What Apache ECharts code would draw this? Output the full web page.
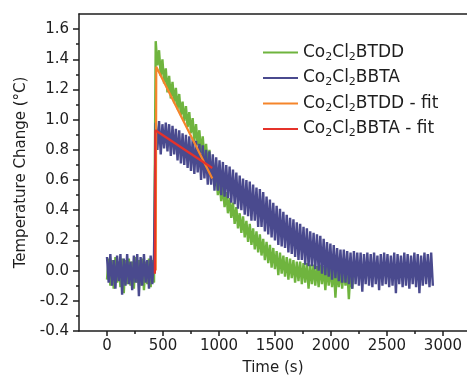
<!DOCTYPE html>
<html>
<head>
<meta charset="utf-8">
<script src="https://cdn.jsdelivr.net/npm/echarts@6/dist/echarts.min.js"></script>
<style>
	html, body { margin: 0; padding: 0; background: #fff; }
	#chart { width: 467px; height: 381px; }
</style>
</head>
<body>
<div id="chart"></div>
<script>
/* 采样间隔 (s) */
const sampleStep = 15;

/* Co2Cl2BTDD 测量值, 每 15 s 一个点 */
const btddValues = [
	-0.06, 0.08, -0.1, 0.07, -0.12, 0.09, -0.08, 0.06, -0.11, 0.08, -0.15, 0.07, -0.09, 0.08, -0.1,
	0.06, -0.12, 0.09, -0.08, 0.07, -0.1, 0.08, -0.13, 0.06, -0.09, 0.08, -0.11, 0.07, -0.08,
	1.52, 1.36, 1.46, 1.29, 1.40, 1.24, 1.34, 1.18, 1.29, 1.14, 1.25, 1.11, 1.21, 1.07, 1.17, 1.03,
	1.12, 0.99, 1.09, 0.95, 1.05, 0.91, 1.01, 0.86, 0.97, 0.83, 0.93, 0.78, 0.89, 0.74, 0.84, 0.68,
	0.80, 0.62, 0.72, 0.56, 0.66, 0.50, 0.60, 0.46, 0.56, 0.42, 0.52, 0.38, 0.48, 0.35, 0.45, 0.31,
	0.42, 0.28, 0.38, 0.25, 0.36, 0.22, 0.33, 0.19, 0.31, 0.17, 0.28, 0.14, 0.26, 0.12, 0.24, 0.10,
	0.21, 0.07, 0.19, 0.05, 0.17, 0.02, 0.15, 0.01, 0.13, -0.03, 0.12, -0.02, 0.10, -0.04, 0.09, -0.06,
	0.08, -0.05, 0.07, -0.08, 0.06, -0.07, 0.06, -0.09, 0.05, -0.08, 0.05, -0.12, 0.04, -0.09, 0.04,
	-0.1, 0.03, -0.11, 0.04, -0.09, 0.03, -0.13, 0.03, -0.1, 0.02, -0.11, 0.03, -0.18, 0.02, -0.11,
	0.02, -0.12, 0.01, -0.1, 0.02, -0.19, 0.01, -0.12, 0.02
];

/* Co2Cl2BBTA 测量值, 每 15 s 一个点 */
const bbtaValues = [
	0.09, -0.08, 0.11, -0.1, 0.07, -0.12, 0.1, -0.07, 0.11, -0.16, 0.08, -0.1, 0.11, -0.09, 0.06,
	-0.13, 0.1, -0.08, 0.11, -0.17, 0.09, -0.1, 0.11, -0.08, 0.07, -0.12, 0.1, -0.09, 0.11,
	0.98, 0.80, 0.99, 0.77, 0.97, 0.81, 0.98, 0.79, 0.97, 0.76, 0.96, 0.77, 0.94, 0.73, 0.93, 0.71,
	0.91, 0.70, 0.90, 0.68, 0.89, 0.66, 0.87, 0.64, 0.86, 0.65, 0.84, 0.60, 0.83, 0.61, 0.80, 0.57,
	0.79, 0.57, 0.77, 0.53, 0.75, 0.53, 0.73, 0.50, 0.72, 0.49, 0.70, 0.48, 0.69, 0.45, 0.67, 0.44,
	0.65, 0.41, 0.63, 0.40, 0.61, 0.37, 0.60, 0.36, 0.59, 0.33, 0.57, 0.33, 0.55, 0.29, 0.54, 0.29,
	0.52, 0.26, 0.49, 0.24, 0.47, 0.22, 0.45, 0.20, 0.43, 0.17, 0.41, 0.16, 0.39, 0.15, 0.37, 0.12,
	0.35, 0.11, 0.34, 0.09, 0.32, 0.07, 0.31, 0.07, 0.29, 0.04, 0.28, 0.03, 0.26, 0.03, 0.25, 0.01,
	0.24, 0.0, 0.23, -0.02, 0.21, -0.03, 0.19, -0.04, 0.18, -0.06, 0.17, -0.05, 0.15, -0.07, 0.14,
	-0.08, 0.14, -0.08, 0.13, -0.09, 0.12, -0.12, 0.13, -0.09, 0.12, -0.1, 0.12, -0.14, 0.11, -0.09,
	0.12, -0.1, 0.11, -0.11, 0.12, -0.09, 0.1, -0.13, 0.11, -0.1, 0.12, -0.09, 0.11, -0.11, 0.1,
	-0.1, 0.12, -0.15, 0.11, -0.09, 0.1, -0.11, 0.12, -0.1, 0.11, -0.12, 0.1, -0.09, 0.12, -0.11,
	0.11, -0.15, 0.1, -0.1, 0.12, -0.09, 0.11, -0.11, 0.12, -0.1
];

/* 拟合线 */
const btddFitTime = [ 435, 440, 940 ];
const btddFitValue = [ 0, 1.35, 0.61 ];
const bbtaFitTime = [ 428, 432, 940 ];
const bbtaFitValue = [ -0.02, 0.93, 0.68 ];

/* 坐标轴刻度 */
const xTicks = [ 0, 500, 1000, 1500, 2000, 2500, 3000 ];
const xMinorTicks = [ 250, 750, 1250, 1750, 2250, 2750 ];
const yTicks = [ -0.4, -0.2, 0.0, 0.2, 0.4, 0.6, 0.8, 1.0, 1.2, 1.4, 1.6 ];
const yMinorTicks = [ -0.3, -0.1, 0.1, 0.3, 0.5, 0.7, 0.9, 1.1, 1.3, 1.5 ];

const seriesNames = [ "Co2Cl2BTDD", "Co2Cl2BBTA", "Co2Cl2BTDD - fit", "Co2Cl2BBTA - fit" ];
const seriesColors = [ "#6fb43e", "#4a4a8e", "#f5852b", "#e5322a" ];

const font = "DejaVu Sans";
const ink = "#1e1e1e";

function sampled( values ) {
	return values.map( ( v, i ) => [ i * sampleStep, v ] );
}

function paired( xs, ys ) {
	return xs.map( ( x, i ) => [ x, ys[i] ] );
}

/* 下标 2 */
function legendLabel( name ) {
	return name.split( "2" ).map( s => `{n|${ s }}` ).join( "{s|2}" );
}

function lineSeries( i, data, width ) {
	return {
		name: seriesNames[i],
		type: "line",
		data,
		symbol: "none",
		color: seriesColors[i],
		lineStyle: { width }
	};
}

const chart = echarts.init( document.getElementById( "chart" ), null, { renderer: "canvas" } );

const baseX = {
	type: "value",
	min: -250,
	max: 3215,
	splitLine: { show: false }
};
const baseY = {
	type: "value",
	min: -0.4,
	max: 1.7,
	position: "left",
	splitLine: { show: false }
};

chart.setOption( {
	animation: false,
	grid: {
		left: 79,
		top: 14,
		right: 0,
		bottom: 48
	},
	legend: {
		orient: "vertical",
		left: 263,
		top: 44,
		padding: 0,
		icon: "rect",
		itemWidth: 35,
		itemHeight: 2,
		itemGap: 7,
		data: seriesNames,
		formatter: legendLabel,
		textStyle: {
			rich: {
				n: { fontFamily: font, fontSize: 17, color: ink },
				s: { fontFamily: font, fontSize: 11, color: ink, padding: [ 9, 0, 0, 0 ] }
			}
		}
	},
	xAxis: [ {
		...baseX,
		position: "bottom",
		name: "Time (s)",
		nameLocation: "middle",
		nameGap: 30,
		nameTextStyle: { fontFamily: font, fontSize: 15, color: ink },
		axisLine: { onZero: false, lineStyle: { color: ink, width: 1.5 } },
		axisTick: { customValues: xTicks, length: 5, lineStyle: { color: ink, width: 1.5 } },
		axisLabel: {
			customValues: xTicks,
			margin: 8,
			fontFamily: font,
			fontSize: 15,
			color: ink,
			formatter: v => String( v )
		}
	}, {
		...baseX,
		position: "bottom",
		axisLine: { show: false, onZero: false },
		axisTick: { customValues: xMinorTicks, length: 3, lineStyle: { color: ink, width: 1.5 } },
		axisLabel: { show: false }
	}, {
		...baseX,
		position: "top",
		axisLine: { onZero: false, lineStyle: { color: ink, width: 1.5 } },
		axisTick: { show: false },
		axisLabel: { show: false }
	} ],
	yAxis: [ {
		...baseY,
		name: "Temperature Change (°C)",
		nameLocation: "middle",
		nameGap: 49,
		nameTextStyle: { fontFamily: font, fontSize: 15, color: ink },
		axisLine: { onZero: false, lineStyle: { color: ink, width: 1.5 } },
		axisTick: { customValues: yTicks, length: 6, lineStyle: { color: ink, width: 1.5 } },
		axisLabel: {
			customValues: yTicks,
			margin: 10,
			fontFamily: font,
			fontSize: 15,
			color: ink,
			formatter: v => v.toFixed( 1 )
		}
	}, {
		...baseY,
		axisLine: { show: false, onZero: false },
		axisTick: { customValues: yMinorTicks, length: 3, lineStyle: { color: ink, width: 1.5 } },
		axisLabel: { show: false }
	} ],
	series: [
		lineSeries( 0, sampled( btddValues ), 2.4 ),
		lineSeries( 1, sampled( bbtaValues ), 2.4 ),
		lineSeries( 2, paired( btddFitTime, btddFitValue ), 2.2 ),
		lineSeries( 3, paired( bbtaFitTime, bbtaFitValue ), 2.2 )
	]
} );
</script>
</body>
</html>
